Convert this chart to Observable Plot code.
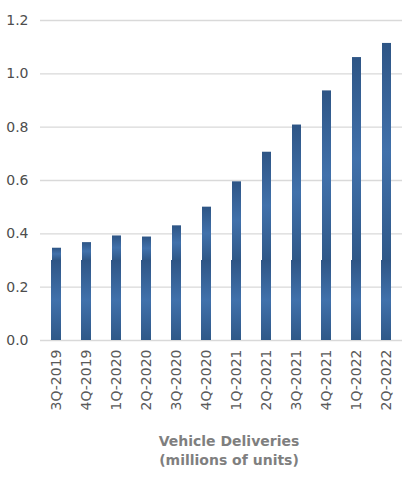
<!DOCTYPE html>
<html>
<head>
<meta charset="utf-8">
<script src="https://cdn.jsdelivr.net/npm/d3@7"></script>
<script src="https://cdn.jsdelivr.net/npm/@observablehq/plot@0.6"></script>
<style>
  body { margin: 0; background: #fff; font-family: "DejaVu Sans", sans-serif; }
  #chart { width: 406px; }
  .caption { width: 378px; margin-left: 40px; text-align: center; color: #7f7f7f;
    font-weight: bold; font-size: 14px; line-height: 19px; margin-top: 7px; }
</style>
</head>
<body>
<div id="chart"></div>
<div class="caption">Vehicle Deliveries<br>(millions of units)</div>
<script>
// trailing twelve month deliveries, millions
const quarters = ["3Q-2019","4Q-2019","1Q-2020","2Q-2020","3Q-2020","4Q-2020",
                  "1Q-2021","2Q-2021","3Q-2021","4Q-2021","1Q-2022","2Q-2022"];
const deliveries = [0.346, 0.367, 0.392, 0.388, 0.430, 0.500,
                    0.595, 0.706, 0.808, 0.936, 1.061, 1.114];
const yTicks = [0, 0.2, 0.4, 0.6, 0.8, 1.0, 1.2];
const split = 0.3;

const data = quarters.map((q, i) => ({q, v: deliveries[i]}));

let chart = Plot.plot({
  width: 406,
  height: 425,
  marginLeft: 40,
  marginRight: 4,
  marginTop: 20,
  marginBottom: 85,
  style: {fontFamily: "'DejaVu Sans', sans-serif", fontSize: 13, color: "#595959"},
  x: {domain: quarters, paddingInner: 0.67, paddingOuter: 0.33, label: null},
  y: {domain: [0, 1.2], ticks: yTicks, tickFormat: d3.format(".1f"), label: null},
  marks: [
    Plot.gridY(yTicks, {stroke: "#d9d9d9", strokeOpacity: 1, strokeWidth: 1.3}),
    () => {
      const svg = d3.create("svg:defs");
      const g = svg.append("linearGradient").attr("id", "barGrad")
        .attr("x1", 0).attr("x2", 0).attr("y1", 0).attr("y2", 1);
      g.append("stop").attr("offset", "0%").attr("stop-color", "#2e5585");
      g.append("stop").attr("offset", "50%").attr("stop-color", "#4171ab");
      g.append("stop").attr("offset", "100%").attr("stop-color", "#2f5888");
      return svg.node();
    },
    Plot.barY(data, {x: "q", y1: 0, y2: split, fill: "url(#barGrad)"}),
    Plot.barY(data, {x: "q", y1: split, y2: "v", fill: "url(#barGrad)", insetLeft: 1}),
    Plot.axisY({ticks: yTicks, tickFormat: d3.format(".1f"), tickSize: 0, tickPadding: 12,
                fill: "#4d4d4d", fontSize: 14}),
    Plot.axisX({tickRotate: -90, tickSize: 0, tickPadding: 9, fill: "#595959", fontSize: 14})
  ]
});
d3.select("#chart").append(() => chart);
</script>
</body>
</html>
